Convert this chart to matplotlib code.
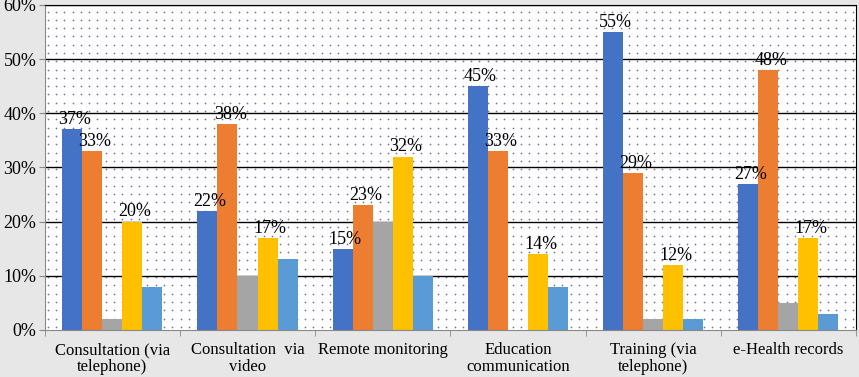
import numpy as np
import matplotlib
matplotlib.use("Agg")
import matplotlib.pyplot as plt

categories = ["Consultation (via\ntelephone)", "Consultation  via\nvideo", "Remote monitoring",
              "Education\ncommunication", "Training (via\ntelephone)", "e-Health records"]
s1 = [37, 22, 15, 45, 55, 27]
s2 = [33, 38, 23, 33, 29, 48]
s3 = [2, 10, 20, 0, 2, 5]
s4 = [20, 17, 32, 14, 12, 17]
s5 = [8, 13, 10, 8, 2, 3]
series = [s1, s2, s3, s4, s5]
labeled = [True, True, False, True, False]
colors = ["#4472C4", "#ED7D31", "#A5A5A5", "#FFC000", "#5B9BD5"]
yticks = [0, 10, 20, 30, 40, 50, 60]

plt.rcParams['font.family'] = ['Liberation Serif', 'DejaVu Serif']

fig = plt.figure(figsize=(8.59, 3.77), dpi=100, facecolor="#e7e7e7")
ax = fig.add_axes([0.052, 0.125, 0.9445, 0.862])
ax.set_facecolor("white")
ax.set_xlim(-0.5, len(categories) - 0.5)
ax.set_ylim(0, 60)

# dotted background pattern
W, H = 811, 325
xs_px = np.arange(3, W, 8.3)
rows = np.arange(3, H, 8.3)
dx, dy = [], []
for r in rows:
    for c in xs_px:
        dx.append(c / W)
        dy.append(r / H)
ax.scatter(dx, dy, s=1.5, color="#7070a8", transform=ax.transAxes, zorder=0.5, linewidths=0)

for y in yticks[1:]:
    ax.axhline(y, color="black", lw=1.0, zorder=1)

x = np.arange(len(categories))
w = 0.148
for i, (vals, col) in enumerate(zip(series, colors)):
    pos = x + (i - 2) * w
    ax.bar(pos, vals, width=w, color=col, zorder=2, linewidth=0)
    if labeled[i]:
        for p, v in zip(pos, vals):
            ax.text(p + 0.02, v + 0.2, f"{v}%", ha="center", va="bottom", fontsize=13, zorder=3)

ax.set_yticks(yticks)
ax.set_yticklabels([f"{t}%" for t in yticks], fontsize=13)
ax.set_xticks(x)
ax.set_xticklabels(categories, fontsize=12, linespacing=1.05)
ax.tick_params(axis='x', length=0, pad=9)
ax.set_xticks(np.arange(-0.5, len(categories)), minor=True)
ax.tick_params(axis='x', which='minor', length=4, color="#888888")
ax.tick_params(axis='y', length=4, color="#888888", pad=2)

for s in ["left", "bottom"]:
    ax.spines[s].set_color("#888888")
for s in ["top", "right"]:
    ax.spines[s].set_color("black")

fig.savefig("out.png", dpi=100, facecolor=fig.get_facecolor())
